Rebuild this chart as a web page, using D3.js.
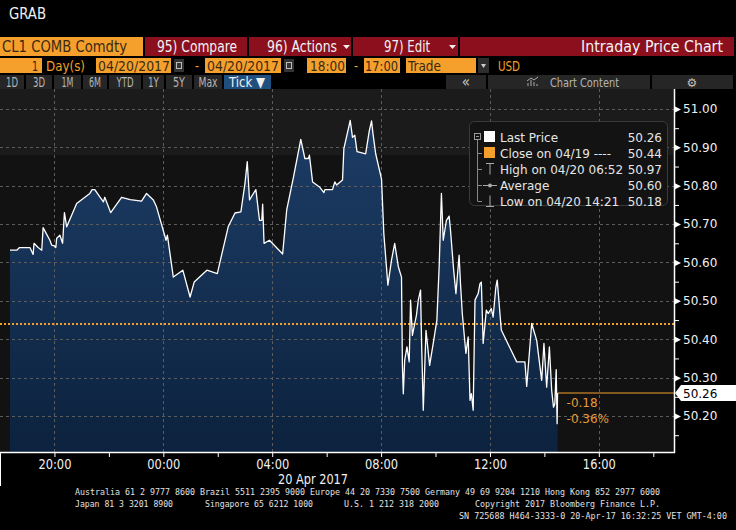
<!DOCTYPE html>
<html><head><meta charset="utf-8">
<script src="https://cdn.jsdelivr.net/npm/d3@7/dist/d3.min.js"></script>
<style>body{margin:0;background:#000;overflow:hidden}svg{display:block}</style>
</head><body>
<svg id="c" width="736" height="530"></svg>
<script>
// ---------- data ----------
const times = ["18:22","18:37","18:43","19:06","19:13","19:15","19:24","19:32","19:35","19:50",
"19:54","20:00","20:03","20:05","20:12","20:18","20:22","20:27","20:49","21:18",
"21:23","21:29","21:40","21:48","21:51","22:04","22:28","22:47","23:12","23:23",
"23:38","23:45","00:06","00:09","00:22","00:43","00:59","01:08","01:36","01:59",
"02:23","02:38","02:51","03:00","03:05","03:10","03:24","03:32","03:37","03:39",
"03:42","03:54","04:23","04:32","04:47","05:03","05:12","05:20","05:22","05:29",
"05:45","05:54","05:56","06:13","06:18","06:22","06:35","06:38","06:52","06:57",
"07:02","07:07","07:26","07:34","07:39","07:42","07:48","08:01","08:06","08:15",
"08:23","08:30","08:38","08:45","08:47","08:49","08:52","08:57","09:02","09:05",
"09:09","09:18","09:22","09:27","09:29","09:33","09:39","09:47","09:56","10:03",
"10:08","10:13","10:17","10:24","10:30","10:33","10:40","10:45","10:52","10:55",
"10:59","11:07","11:12","11:16","11:19","11:23","11:27","11:34","11:38","11:41",
"11:45","11:52","11:56","12:03","12:07","12:13","12:16","12:22","12:25","12:59",
"13:17","13:21","13:32","13:43","13:54","13:59","14:05","14:11","14:16","14:20",
"14:23","14:26","14:28","14:29"];
const prices = [50.632,50.632,50.639,50.639,50.621,50.650,50.639,50.632,50.691,50.658,
50.645,50.643,50.639,50.663,50.671,50.650,50.730,50.693,50.754,50.780,
50.790,50.790,50.771,50.758,50.770,50.730,50.770,50.764,50.760,50.780,
50.763,50.745,50.658,50.671,50.562,50.580,50.510,50.549,50.580,50.571,
50.693,50.729,50.732,50.806,50.863,50.763,50.790,50.710,50.710,50.752,
50.650,50.658,50.622,50.737,50.823,50.921,50.871,50.871,50.880,50.810,
50.796,50.782,50.790,50.790,50.810,50.802,50.815,50.897,50.970,50.926,
50.932,50.889,50.883,50.943,50.969,50.937,50.884,50.817,50.676,50.541,
50.606,50.650,50.589,50.562,50.332,50.258,50.345,50.380,50.341,50.502,
50.410,50.463,50.502,50.528,50.406,50.215,50.423,50.332,50.397,50.450,
50.589,50.780,50.658,50.710,50.721,50.684,50.580,50.519,50.619,50.546,
50.467,50.363,50.406,50.241,50.258,50.215,50.502,50.519,50.545,50.549,
50.389,50.476,50.467,50.480,50.458,50.536,50.554,50.467,50.424,50.341,
50.341,50.277,50.441,50.397,50.293,50.389,50.275,50.380,50.267,50.223,
50.232,50.321,50.180,50.260];
const yTicks = [50.20,50.30,50.40,50.50,50.60,50.70,50.80,50.90,51.00];
const yMinorTicks = [50.15,50.25,50.35,50.45,50.55,50.65,50.75,50.85,50.95];
const xTickLabels = ["20:00","00:00","04:00","08:00","12:00","16:00"];
const xMinorTickLabels = ["18:00","22:00","02:00","06:00","10:00","14:00","18:00"];
const prevClose = 50.44;
const lastPrice = 50.26;
const netChange = "-0.18";
const pctChange = "-0.36%";
const legendLabels = ["Last Price","Close on 04/19 ----","High on 04/20 06:52","Average","Low on 04/20 14:21"];
const legendValues = ["50.26","50.44","50.97","50.60","50.18"];

// ---------- helpers ----------
function parseT(s, endOfDay){
  const [h,m] = s.split(":").map(Number);
  const day = (h >= 18 && !endOfDay) ? 19 : 20;
  return new Date(2017, 3, day, h, m);
}
const data = d3.zip(times, prices).map(([t,v]) => ({t: parseT(t), v}));

const svg = d3.select("#c");
const ORANGE = "#f5a02c", MAROON = "#8c0f1e", DARKT = "#3b2a12";
const narrow = "'DejaVu Sans Condensed','DejaVu Sans',sans-serif";
const dv = "'DejaVu Sans',sans-serif";

// narrow text with fitted width
function nt(text, x, y, w, size, color, anchor){
  const t = svg.append("text").attr("x",x).attr("y",y).attr("fill",color)
    .attr("font-family",narrow).attr("font-stretch","condensed").attr("font-size",size)
    .attr("text-anchor",anchor||"start").text(text);
  if(w) t.attr("textLength",w).attr("lengthAdjust","spacingAndGlyphs");
  return t;
}

// ---------- header ----------
nt("GRAB", 9, 19, 37, 15, "#f0f0f0");

// row 1
svg.append("rect").attr("x",0).attr("y",37).attr("width",143).attr("height",19).attr("fill",ORANGE);
[[145,102],[249,102],[353,105],[460,274]].forEach(([bx,bw])=>
  svg.append("rect").attr("x",bx).attr("y",37).attr("width",bw).attr("height",19).attr("fill",MAROON));
nt("CL1 COMB Comdty", 2, 52, 125, 15, DARKT);
nt("95) Compare", 157, 52, 80, 15, "#f2f2f2");
nt("96) Actions", 267, 52, 70, 15, "#f2f2f2");
nt("97) Edit", 384, 52, 46, 15, "#f2f2f2");
nt("Intraday Price Chart", 581, 52, 142, 15, "#f2f2f2");
[343,449].forEach(px=>svg.append("path").attr("d",`M${px},45H${px+7}L${px+3.5},49Z`).attr("fill","#eee"));

// row 2
[[0,42],[96,75],[205,76],[307,39],[364,36],[406,70]].forEach(([bx,bw])=>
  svg.append("rect").attr("x",bx).attr("y",58).attr("width",bw).attr("height",15).attr("fill",ORANGE));
nt("1", 32, 71, 6, 14, DARKT);
nt("Day(s)", 46, 71, 39, 14, ORANGE);
nt("04/20/2017", 98, 71, 72, 14, DARKT);
nt("-", 195, 71, 4, 14, ORANGE);
nt("04/20/2017", 207, 71, 72, 14, DARKT);
nt("18:00", 310, 71, 35, 14, DARKT);
nt("-", 354, 71, 4, 14, ORANGE);
nt("17:00", 365, 71, 33, 14, DARKT);
nt("Trade", 408, 71, 33, 14, DARKT);
nt("USD", 498, 71, 22, 14, ORANGE);
[174,284].forEach(px=>{
  svg.append("rect").attr("x",px).attr("y",59).attr("width",10).attr("height",13).attr("fill","#333");
  svg.append("rect").attr("x",px+2.5).attr("y",62.5).attr("width",5).attr("height",6).attr("fill","none").attr("stroke","#bbb").attr("stroke-width",1);
});
svg.append("rect").attr("x",478).attr("y",58).attr("width",11).attr("height",15).attr("fill","#2d2d2d");
svg.append("path").attr("d","M481,64L486,64L483.5,68Z").attr("fill","#ccc");

// row 3
const row3 = [
  {x:0,w:24,t:"1D",tw:12},{x:26,w:26,t:"3D",tw:12},{x:54,w:27,t:"1M",tw:12},{x:83,w:24,t:"6M",tw:12},
  {x:109,w:32,t:"YTD",tw:17},{x:143,w:21,t:"1Y",tw:11},{x:166,w:26,t:"5Y",tw:12},{x:194,w:28,t:"Max",tw:19}
];
row3.forEach(b=>{
  svg.append("rect").attr("x",b.x).attr("y",75).attr("width",b.w).attr("height",14).attr("fill","#262626");
  nt(b.t, b.x+b.w/2, 87, b.tw, 14, "#b5b5b5", "middle");
});
svg.append("rect").attr("x",224).attr("y",75).attr("width",47).attr("height",14).attr("fill","#1f4f7e");
nt("Tick ▼", 229, 87, 36, 14, "#f0f0f0");
svg.append("rect").attr("x",446).attr("y",75).attr("width",40).attr("height",14).attr("fill","#262626");
nt("«", 466, 87, 0, 15, "#ccc", "middle");
svg.append("rect").attr("x",488).attr("y",75).attr("width",162).attr("height",14).attr("fill","#262626");
nt("Chart Content", 550, 87, 69, 13, "#b5b5b5");
svg.append("path").attr("d","M528,86V83M531,86V80M534,86V82M537,86V84M527,81L531,78L534,80L538,77").attr("stroke","#aaa").attr("fill","none");
svg.append("rect").attr("x",652).attr("y",75).attr("width",81).attr("height",14).attr("fill","#262626");
svg.append("text").attr("x",692).attr("y",87).attr("text-anchor","middle").attr("fill","#c0c0c0").attr("font-family",dv).attr("font-size",12).text("⚙");

// ---------- chart ----------
const L = 0, R = 674, T = 89, B = 452;
const x = d3.scaleTime().domain([new Date(2017,3,19,18,0), new Date(2017,3,20,18,45,40)]).range([L,R]);
const y = d3.scaleLinear().domain([50.1062, 51.0521]).range([B,T]);

svg.append("rect").attr("x",L).attr("y",T).attr("width",R-L).attr("height",B-T).attr("fill","#121212");
svg.append("rect").attr("x",L).attr("y",T).attr("width",R-L).attr("height",66).attr("fill","#1b1b1b");

const defs = svg.append("defs");
const g = defs.append("linearGradient").attr("id","fillg").attr("x1",0).attr("x2",0).attr("y1",0).attr("y2",1);
g.append("stop").attr("offset","0%").attr("stop-color","#1d3d66");
g.append("stop").attr("offset","100%").attr("stop-color","#0c223e");

// area
svg.append("path").datum(data).attr("fill","url(#fillg)")
  .attr("d", d3.area().x(d=>x(d.t)).y0(B).y1(d=>y(d.v)));

// grid
const grid = svg.append("g").attr("stroke","#5c5c5c").attr("stroke-dasharray","3,3").attr("stroke-width",1);
yTicks.forEach(v=>grid.append("line").attr("x1",L).attr("x2",R).attr("y1",Math.round(y(v))+0.5).attr("y2",Math.round(y(v))+0.5));
const xTickDates = xTickLabels.map(s=>parseT(s));
xTickDates.forEach(d=>grid.append("line").attr("x1",Math.round(x(d))+0.5).attr("x2",Math.round(x(d))+0.5).attr("y1",T).attr("y2",B));

// previous close (dotted orange)
svg.append("line").attr("x1",L).attr("x2",R).attr("y1",y(prevClose)).attr("y2",y(prevClose))
  .attr("stroke",ORANGE).attr("stroke-width",2).attr("stroke-dasharray","2,2");

// price line
svg.append("path").datum(data).attr("fill","none").attr("stroke","#ffffff").attr("stroke-width",1.3)
  .attr("stroke-linejoin","round")
  .attr("d", d3.line().x(d=>x(d.t)).y(d=>y(d.v)));

// last price line
const lastX = x(data[data.length-1].t);
svg.append("line").attr("x1",lastX).attr("x2",R).attr("y1",y(lastPrice)).attr("y2",y(lastPrice))
  .attr("stroke",ORANGE).attr("stroke-width",1.2);
svg.append("text").attr("x",lastX+9).attr("y",y(lastPrice)+14).attr("fill","#e89a38")
  .attr("font-family",dv).attr("font-size",12).text(netChange);
svg.append("text").attr("x",lastX+9).attr("y",y(lastPrice)+30).attr("fill","#e89a38")
  .attr("font-family",dv).attr("font-size",12).text(pctChange);

// legend
const lg = svg.append("g");
lg.append("rect").attr("x",469.5).attr("y",121.5).attr("width",198).attr("height",84).attr("rx",5)
  .attr("fill","#131313").attr("stroke","#3a3a3a");
const rowY = i => 137 + i*16;
lg.append("rect").attr("x",474.5).attr("y",133.5).attr("width",6).attr("height",6).attr("fill","none").attr("stroke","#999");
lg.append("line").attr("x1",476).attr("x2",479).attr("y1",136.5).attr("y2",136.5).attr("stroke","#999");
lg.append("line").attr("x1",477.5).attr("x2",477.5).attr("y1",140).attr("y2",rowY(4)).attr("stroke","#888");
[1,2,3,4].forEach(i=>lg.append("line").attr("x1",477.5).attr("x2",482).attr("y1",rowY(i)+0.5).attr("y2",rowY(i)+0.5).attr("stroke","#888"));
lg.append("rect").attr("x",484).attr("y",rowY(0)-6).attr("width",11).attr("height",11).attr("fill","#fff");
lg.append("rect").attr("x",484).attr("y",rowY(1)-6).attr("width",11).attr("height",11).attr("fill",ORANGE);
lg.append("path").attr("d",`M486,${rowY(2)-5.5}H494M490,${rowY(2)-5.5}V${rowY(2)+5.5}`).attr("stroke","#aaa").attr("fill","none");
lg.append("path").attr("d",`M483,${rowY(3)+0.5}H497`).attr("stroke","#aaa");
lg.append("circle").attr("cx",490).attr("cy",rowY(3)+0.5).attr("r",2).attr("fill","#aaa");
lg.append("path").attr("d",`M486,${rowY(4)+5.5}H494M490,${rowY(4)-5.5}V${rowY(4)+5.5}`).attr("stroke","#aaa").attr("fill","none");
legendLabels.forEach((t,i)=>{
  lg.append("text").attr("x",500).attr("y",rowY(i)+4.5).attr("fill","#e6e6e6").attr("font-family",dv).attr("font-size",12).text(t);
  lg.append("text").attr("x",662).attr("y",rowY(i)+4.5).attr("text-anchor","end").attr("fill","#e6e6e6").attr("font-family",dv).attr("font-size",12).text(legendValues[i]);
});

// y axis
const yAxis = svg.append("g").attr("transform",`translate(${R},0)`)
  .call(d3.axisRight(y).tickValues(yTicks).tickFormat(d3.format(".2f")).tickSize(0).tickPadding(9));
yAxis.select(".domain").remove();
yAxis.selectAll("text").attr("fill","#f0f0f0").attr("font-family",dv).attr("font-size",12);
yAxis.selectAll(".tick").append("path").attr("d","M1,-3L7,0L1,3Z").attr("fill","#fff");
const yMinor = svg.append("g").attr("transform",`translate(${R},0)`)
  .call(d3.axisRight(y).tickValues(yMinorTicks).tickSize(5).tickFormat(""));
yMinor.select(".domain").remove();
yMinor.selectAll("line").attr("stroke","#fff");
svg.append("line").attr("x1",R+0.5).attr("x2",R+0.5).attr("y1",T).attr("y2",B+1).attr("stroke","#fff").attr("stroke-width",1.5);

// last price tag
const ly = Math.round(y(lastPrice));
svg.append("path").attr("d",`M${R+1},${ly}L${R+7},${ly-8}H736V${ly+8}H${R+7}Z`).attr("fill","#fff");
svg.append("text").attr("x",R+9).attr("y",ly+4.5).attr("fill","#000").attr("font-family",dv).attr("font-size",12)
  .text(d3.format(".2f")(lastPrice));

// x axis
const xAxis = svg.append("g").attr("transform",`translate(0,${B})`)
  .call(d3.axisBottom(x).tickValues(xTickDates).tickFormat(d3.timeFormat("%H:%M")).tickSize(5).tickPadding(2));
xAxis.select(".domain").remove();
xAxis.selectAll("line").attr("stroke","#fff");
xAxis.selectAll("text").attr("fill","#f0f0f0").attr("font-family",narrow).attr("font-stretch","condensed")
  .attr("font-size",14).attr("textLength",33).attr("lengthAdjust","spacingAndGlyphs");
const xMinor = svg.append("g").attr("transform",`translate(0,${B})`)
  .call(d3.axisBottom(x).tickValues(xMinorTickLabels.map((s,i)=>parseT(s, i===xMinorTickLabels.length-1))).tickSize(5).tickFormat(""));
xMinor.select(".domain").remove();
xMinor.selectAll("line").attr("stroke","#fff");
svg.append("line").attr("x1",0).attr("x2",R+1).attr("y1",B+0.5).attr("y2",B+0.5).attr("stroke","#fff").attr("stroke-width",1.5);
svg.append("line").attr("x1",0.5).attr("x2",0.5).attr("y1",B).attr("y2",486).attr("stroke","#fff");
nt("20 Apr 2017", 278, 484, 70, 14, "#f0f0f0");

// footer
const foot = [
  {x:75,y:495,w:585,s:8.7,t:"Australia 61 2 9777 8600 Brazil 5511 2395 9000 Europe 44 20 7330 7500 Germany 49 69 9204 1210 Hong Kong 852 2977 6000"},
  {x:75,y:507,w:98,s:8.2,t:"Japan 81 3 3201 8900"},
  {x:205,y:507,w:108,s:8.2,t:"Singapore 65 6212 1000"},
  {x:344,y:507,w:95,s:8.2,t:"U.S. 1 212 318 2000"},
  {x:475,y:507,w:185,s:8.2,t:"Copyright 2017 Bloomberg Finance L.P."},
  {x:459,y:519,w:268,s:8,t:"SN 725688 H464-3333-0 20-Apr-17 16:32:25 VET  GMT-4:00"}
];
foot.forEach(f=>svg.append("text").attr("x",f.x).attr("y",f.y).attr("fill","#e0e0e0")
  .attr("font-family","'DejaVu Sans Mono',monospace").attr("font-size",f.s)
  .attr("textLength",f.w).attr("lengthAdjust","spacingAndGlyphs").text(f.t));
</script>
</body></html>
